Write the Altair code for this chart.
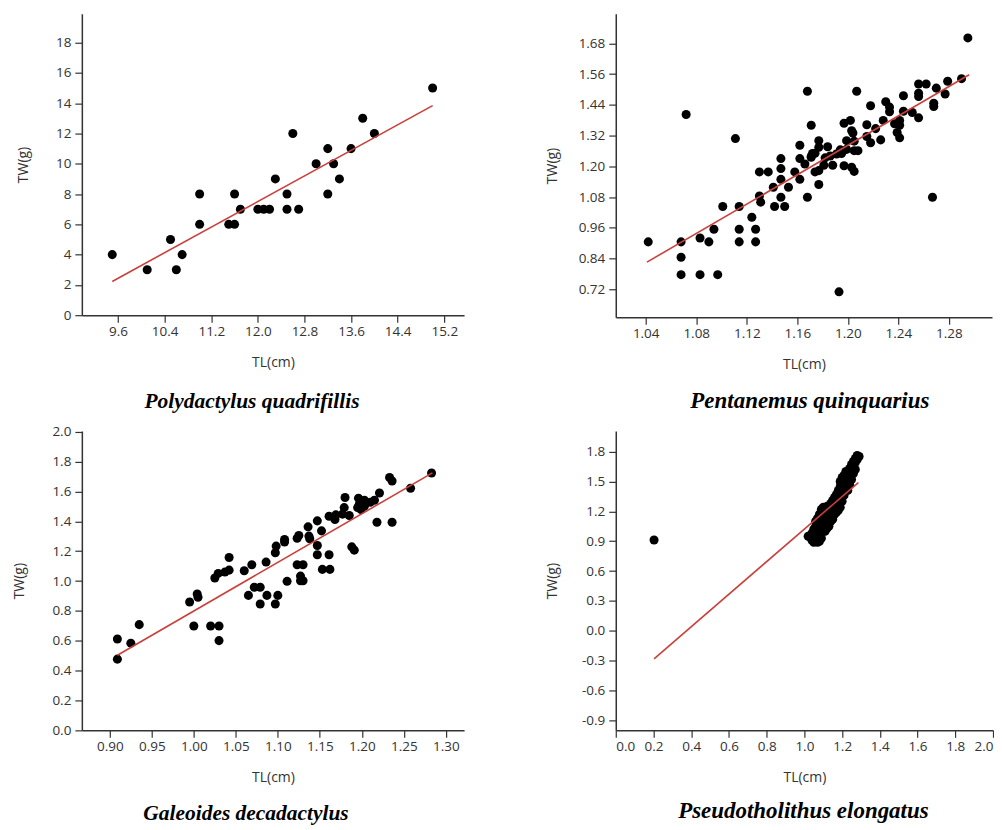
import altair as alt
import pandas as pd

# ---------------- Panel 1: Polydactylus quadrifillis ----------------
p1_tl = [9.50, 10.10, 10.50, 10.60, 10.70, 11.00, 11.00, 11.50, 11.60, 11.60,
         11.70, 12.00, 12.10, 12.20, 12.30, 12.50, 12.50, 12.60, 12.70, 13.00,
         13.20, 13.20, 13.30, 13.40, 13.60, 13.80, 14.00, 15.00]
p1_tw = [4, 3, 5, 3, 4, 8, 6, 6, 6, 8,
         7, 7, 7, 7, 9, 8, 7, 12, 7, 10,
         11, 8, 10, 9, 11, 13, 12, 15]
p1_fit_tl = [9.50, 15.00]
p1_fit_tw = [2.23, 13.84]
p1_xticks = [9.6, 10.4, 11.2, 12.0, 12.8, 13.6, 14.4, 15.2]
p1_yticks = [0, 2, 4, 6, 8, 10, 12, 14, 16, 18]

# ---------------- Panel 2: Pentanemus quinquarius ----------------
p2_tl = [1.042, 1.072, 1.068, 1.068, 1.068, 1.083, 1.083, 1.090, 1.094, 1.097,
         1.101, 1.111, 1.114, 1.114, 1.114, 1.124, 1.127, 1.127, 1.130, 1.131,
         1.130, 1.137, 1.142, 1.150, 1.141, 1.147, 1.147, 1.147, 1.147, 1.153,
         1.158, 1.162, 1.162, 1.162, 1.168, 1.168, 1.171, 1.166, 1.171, 1.174,
         1.177, 1.177, 1.177, 1.174, 1.177, 1.171, 1.184, 1.182, 1.188, 1.191,
         1.194, 1.197, 1.197, 1.202, 1.203, 1.205, 1.205, 1.203, 1.205, 1.199,
         1.199, 1.207, 1.208, 1.215, 1.218, 1.218, 1.215, 1.222, 1.226, 1.228,
         1.230, 1.233, 1.233, 1.237, 1.241, 1.241, 1.239, 1.241, 1.244, 1.244,
         1.251, 1.256, 1.256, 1.256, 1.256, 1.262, 1.268, 1.268, 1.270, 1.277,
         1.279, 1.267, 1.290, 1.295, 1.193, 1.181, 1.172, 1.186, 1.196, 1.204,
         1.195]
p2_tw = [0.905, 1.402, 0.905, 0.845, 0.777, 0.920, 0.777, 0.905, 0.954, 0.777,
         1.043, 1.308, 1.043, 0.954, 0.905, 1.001, 0.954, 0.905, 1.084, 1.060,
         1.178, 1.178, 1.043, 1.043, 1.118, 1.230, 1.191, 1.149, 1.079, 1.118,
         1.178, 1.149, 1.230, 1.282, 1.493, 1.079, 1.360, 1.209, 1.238, 1.251,
         1.300, 1.274, 1.183, 1.178, 1.129, 1.235, 1.276, 1.233, 1.204, 1.248,
         1.264, 1.368, 1.202, 1.379, 1.339, 1.298, 1.261, 1.196, 1.180, 1.300,
         1.266, 1.493, 1.261, 1.362, 1.436, 1.292, 1.316, 1.347, 1.303, 1.379,
         1.452, 1.431, 1.413, 1.366, 1.379, 1.360, 1.332, 1.311, 1.475, 1.415,
         1.410, 1.521, 1.485, 1.472, 1.389, 1.521, 1.446, 1.433, 1.505, 1.482,
         1.532, 1.079, 1.542, 1.701, 0.710, 1.204, 1.250, 1.240, 1.260, 1.330,
         1.250]
p2_fit_tl = [1.041, 1.296]
p2_fit_tw = [0.826, 1.557]
p2_xticks = [1.04, 1.08, 1.12, 1.16, 1.20, 1.24, 1.28]
p2_yticks = [0.72, 0.84, 0.96, 1.08, 1.20, 1.32, 1.44, 1.56, 1.68]

# ---------------- Panel 3: Galeoides decadactylus ----------------
p3_tl = [0.909, 0.909, 0.925, 0.935, 0.995, 1.000, 1.004, 1.005, 1.020, 1.030,
         1.030, 1.025, 1.029, 1.037, 1.042, 1.042, 1.060, 1.069, 1.065, 1.072,
         1.079, 1.079, 1.087, 1.086, 1.097, 1.100, 1.097, 1.098, 1.108, 1.108,
         1.111, 1.123, 1.123, 1.125, 1.127, 1.127, 1.130, 1.130, 1.136, 1.138,
         1.147, 1.147, 1.147, 1.152, 1.153, 1.161, 1.162, 1.161, 1.168, 1.169,
         1.177, 1.179, 1.180, 1.185, 1.188, 1.191, 1.195, 1.196, 1.199, 1.203,
         1.210, 1.215, 1.218, 1.221, 1.233, 1.236, 1.236, 1.258, 1.283, 1.203,
         1.137, 1.197]
p3_tw = [0.612, 0.477, 0.584, 0.708, 0.860, 0.699, 0.913, 0.891, 0.699, 0.699,
         0.601, 1.020, 1.051, 1.060, 1.158, 1.073, 1.069, 1.109, 0.904, 0.958,
         0.958, 0.846, 0.904, 1.127, 0.846, 0.904, 1.189, 1.234, 1.261, 1.278,
         0.998, 1.287, 1.109, 1.305, 1.033, 1.002, 1.109, 1.002, 1.363, 1.283,
         1.403, 1.238, 1.176, 1.336, 1.078, 1.176, 1.078, 1.434, 1.412, 1.443,
         1.448, 1.492, 1.559, 1.439, 1.229, 1.207, 1.492, 1.555, 1.479, 1.541,
         1.528, 1.541, 1.394, 1.590, 1.693, 1.670, 1.394, 1.621, 1.724, 1.501,
         1.301, 1.514]
p3_fit_tl = [0.909, 1.284]
p3_fit_tw = [0.503, 1.724]
p3_xticks = [0.90, 0.95, 1.00, 1.05, 1.10, 1.15, 1.20, 1.25, 1.30]
p3_yticks = [0.0, 0.2, 0.4, 0.6, 0.8, 1.0, 1.2, 1.4, 1.6, 1.8, 2.0]

# ---------------- Panel 4: Pseudotholithus elongatus ----------------
p4_tl = [0.203, 1.02, 1.03, 1.04, 1.05, 1.06, 1.07, 1.08, 1.09, 1.04,
         1.05, 1.06, 1.07, 1.08, 1.09, 1.10, 1.11, 1.12, 1.06, 1.07,
         1.08, 1.09, 1.10, 1.11, 1.12, 1.13, 1.14, 1.08, 1.09, 1.10,
         1.11, 1.12, 1.13, 1.14, 1.15, 1.16, 1.10, 1.12, 1.13, 1.14,
         1.15, 1.16, 1.17, 1.18, 1.14, 1.15, 1.16, 1.17, 1.18, 1.19,
         1.16, 1.17, 1.18, 1.19, 1.20, 1.18, 1.19, 1.20, 1.21, 1.19,
         1.20, 1.21, 1.22, 1.23, 1.21, 1.22, 1.23, 1.24, 1.22, 1.23,
         1.24, 1.25, 1.24, 1.25, 1.26, 1.25, 1.26, 1.27, 1.26, 1.27,
         1.28, 1.29, 1.28, 1.27]
p4_tw = [0.912, 0.95, 0.95, 0.91, 0.89, 0.92, 0.89, 0.90, 0.93, 0.98,
         1.02, 1.05, 0.97, 1.00, 0.98, 1.02, 1.00, 1.03, 1.10, 1.13,
         1.08, 1.12, 1.07, 1.10, 1.08, 1.05, 1.10, 1.17, 1.22, 1.19,
         1.15, 1.20, 1.16, 1.14, 1.12, 1.17, 1.24, 1.25, 1.22, 1.20,
         1.24, 1.22, 1.19, 1.21, 1.28, 1.31, 1.29, 1.27, 1.30, 1.24,
         1.34, 1.37, 1.35, 1.33, 1.30, 1.41, 1.45, 1.39, 1.36, 1.50,
         1.54, 1.47, 1.43, 1.41, 1.56, 1.52, 1.49, 1.47, 1.60, 1.57,
         1.55, 1.52, 1.63, 1.60, 1.58, 1.67, 1.65, 1.62, 1.70, 1.69,
         1.72, 1.75, 1.76, 1.73]
p4_fit_tl = [0.203, 1.286]
p4_fit_tw = [-0.281, 1.489]
p4_xticks = [0.0, 0.2, 0.4, 0.6, 0.8, 1.0, 1.2, 1.4, 1.6, 1.8, 2.0]
p4_yticks = [-0.9, -0.6, -0.3, 0.0, 0.3, 0.6, 0.9, 1.2, 1.5, 1.8]

titles = ["Polydactylus quadrifillis", "Pentanemus quinquarius",
          "Galeoides decadactylus", "Pseudotholithus elongatus"]

AXIS_FONT = "Open Sans"
TITLE_FONT = "Liberation Serif"
INK = "#333333"
LINE_RED = "#c8403c"


def fmt_expr(spec):
    return "replace(format(datum.value, '" + spec + "'), '\u2212', '-')"


def panel(tl, tw, fit_tl, fit_tw, xdom, ydom, xticks, yticks, xfmt, yfmt,
          w, h, yext, title, title_dx, title_offset, title_size):
    pts = pd.DataFrame({"TL": tl, "TW": tw})
    fit = pd.DataFrame({"TL": fit_tl, "TW": fit_tw})
    xs = alt.Scale(domain=xdom, nice=False, zero=False)
    ys = alt.Scale(domain=ydom, nice=False, zero=False)
    xax = alt.Axis(values=xticks, tickCount=40, labelExpr=fmt_expr(xfmt),
                   title="TL(cm)", tickSize=7, labelPadding=2, titlePadding=18,
                   labelOverlap=False, grid=False)
    yax = alt.Axis(values=yticks, tickCount=40, labelExpr=fmt_expr(yfmt),
                   title="TW(g)", tickSize=7, labelPadding=4, titlePadding=6,
                   minExtent=yext, maxExtent=yext,
                   labelOverlap=False, grid=False)
    points = alt.Chart(pts).mark_circle(size=82, color="black", opacity=1).encode(
        x=alt.X("TL:Q", scale=xs, axis=xax),
        y=alt.Y("TW:Q", scale=ys, axis=yax),
    )
    line = alt.Chart(fit).mark_line(color=LINE_RED, strokeWidth=1.6).encode(
        x=alt.X("TL:Q", scale=xs),
        y=alt.Y("TW:Q", scale=ys),
    )
    return alt.layer(points, line).properties(
        width=w, height=h,
        title=alt.TitleParams(title, orient="bottom", anchor="middle", frame="group",
                              font=TITLE_FONT, fontSize=title_size, fontStyle="italic",
                              fontWeight="bold", color="black",
                              offset=title_offset, dx=title_dx),
    )


c1 = panel(p1_tl, p1_tw, p1_fit_tl, p1_fit_tw, [8.978, 15.54], [0, 19.9],
           p1_xticks, p1_yticks, ".1f", "d", 383, 302, 45, titles[0], -21, 21, 21.5)
c2 = panel(p2_tl, p2_tw, p2_fit_tl, p2_fit_tw, [1.0163, 1.3141], [0.611, 1.795],
           p2_xticks, p2_yticks, ".2f", ".2f", 377, 304, 50, titles[1], 6, 18, 23)
c3 = panel(p3_tl, p3_tw, p3_fit_tl, p3_fit_tw, [0.8667, 1.3217], [0, 2.005],
           p3_xticks, p3_yticks, ".2f", ".1f", 383, 300, 49, titles[2], -27, 18, 21.5)
c4 = panel(p4_tl, p4_tw, p4_fit_tl, p4_fit_tw, [0.0, 2.0], [-1.0, 2.007],
           p4_xticks, p4_yticks, ".1f", ".1f", 378, 300, 50, titles[3], -1, 15, 23)

row1 = alt.hconcat(c1, c2, spacing=82)
row2 = alt.hconcat(c3, c4, spacing=82)

chart = alt.vconcat(row1, row2, spacing=11).properties(
    padding={"left": 5, "top": 5, "right": 0, "bottom": 0},
    background="white",
).configure_view(stroke=None).configure_axis(
    grid=False,
    domainColor=INK, domainWidth=1.5,
    tickColor=INK, tickWidth=1.2,
    labelFont=AXIS_FONT, labelFontSize=13.5, labelColor=INK,
    titleFont=AXIS_FONT, titleFontSize=14, titleFontWeight="normal", titleColor=INK,
)

chart.save("out.html", embed_options={"renderer": "svg", "actions": False})
